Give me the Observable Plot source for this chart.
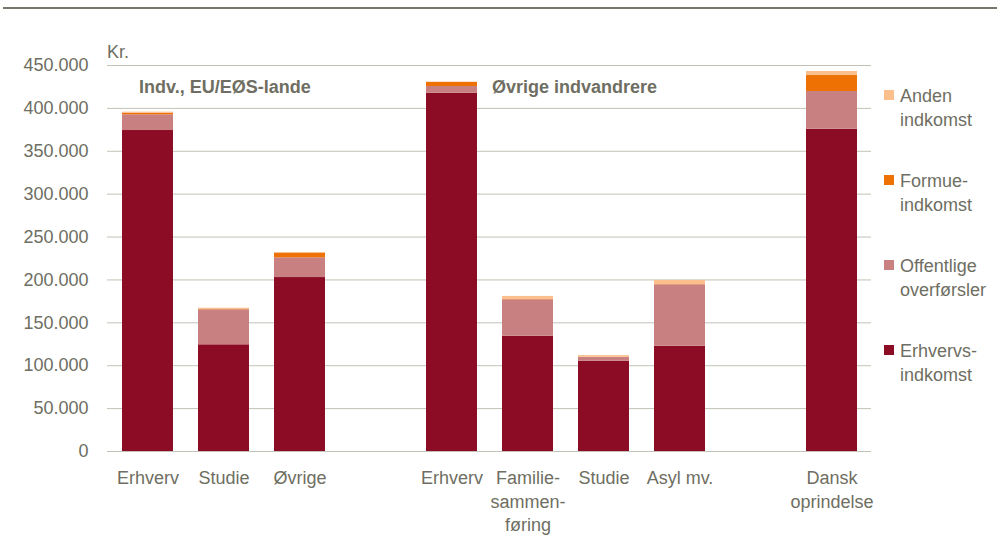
<!DOCTYPE html>
<html>
<head>
<meta charset="utf-8">
<script src="https://cdn.jsdelivr.net/npm/d3@7"></script>
<script src="https://cdn.jsdelivr.net/npm/@observablehq/plot@0.6"></script>
<style>
  html, body { margin: 0; padding: 0; background: #fff; }
  #chart { width: 997px; height: 538px; }
</style>
</head>
<body>
<div id="chart"></div>
<script>
// Category slots (empty strings are gaps between groups)
const categoryLabels = ["Erhverv", "Studie", "Øvrige", "", "Erhverv", "Familie-\nsammen-\nføring", "Studie", "Asyl mv.", "", "Dansk\noprindelse"];
const seriesNames = ["Erhvervs-indkomst", "Offentlige overførsler", "Formue-indkomst", "Anden indkomst"];
const legendLabels = [["Erhvervs-", "indkomst"], ["Offentlige", "overførsler"], ["Formue-", "indkomst"], ["Anden", "indkomst"]];
const seriesColors = ["#8b0c24", "#c98080", "#ee7203", "#fbbf8c"];

// Values in kr. (null = gap slot)
const erhvervsIndkomst = [374200, 124400, 202800, null, 417700, 134400, 105300, 122800, null, 375700];
const offentligeOverforsler = [18300, 40800, 23000, null, 7800, 42400, 4300, 71500, null, 44000];
const formueIndkomst = [1900, 300, 5000, null, 4700, 500, 200, 300, null, 18600];
const andenIndkomst = [1200, 1500, 1200, null, 500, 3500, 2000, 4700, null, 4700];

const yTicks = [0, 50000, 100000, 150000, 200000, 250000, 300000, 350000, 400000, 450000];
const groupLabels = ["Indv., EU/EØS-lande", "Øvrige indvandrere"];

const seriesValues = [erhvervsIndkomst, offentligeOverforsler, formueIndkomst, andenIndkomst];
const data = [];
seriesValues.forEach((vals, s) => {
  vals.forEach((v, i) => {
    if (v != null) data.push({i, series: seriesNames[s], value: v});
  });
});
const xLabelData = categoryLabels.map((label, i) => ({i, label, base: 0}));

const textColor = "#6e6e62";
const gridColor = "#c2c2b6";
const fmt = d3.formatLocale({decimal: ",", thousands: ".", grouping: [3], currency: ["", ""]}).format(",d");

const chart = Plot.plot({
  width: 997,
  height: 538,
  marginLeft: 107,
  marginRight: 126,
  marginTop: 65,
  marginBottom: 87,
  style: {fontFamily: "'Liberation Sans', Arial, sans-serif", fontSize: "18px", color: textColor, background: "#fff"},
  x: {domain: d3.range(categoryLabels.length), paddingInner: 0.333, paddingOuter: 0.1665, axis: null},
  y: {domain: [0, 450000], ticks: yTicks, tickSize: 0, tickPadding: 19, tickFormat: fmt, label: null},
  color: {domain: seriesNames, range: seriesColors},
  marks: [
    Plot.ruleY(yTicks, {stroke: gridColor, strokeWidth: 1}),
    Plot.barY(data, {x: "i", y: "value", fill: "series", z: "series"}),
    Plot.text(xLabelData, {x: "i", y: "base", text: "label", dy: 16, lineAnchor: "top", lineHeight: 1.3, fontSize: 18, fill: textColor})
  ]
});
document.getElementById("chart").appendChild(chart);

const svg = d3.select(chart);
const xs = chart.scale("x");

// Top rule
svg.append("line").attr("x1", 3).attr("x2", 997).attr("y1", 8).attr("y2", 8)
  .attr("stroke", "#77766a").attr("stroke-width", 2);

// Unit label
svg.append("text").attr("x", 107).attr("y", 58).attr("fill", textColor)
  .attr("text-anchor", "start").attr("font-size", 18).text("Kr.");

// Group annotations (offset from the first bar of each group)
const groupAnchors = [0, 4];
const groupDx = [17, 66];
groupLabels.forEach((g, k) => {
  svg.append("text")
    .attr("x", xs.apply(groupAnchors[k]) + groupDx[k])
    .attr("y", 93)
    .attr("text-anchor", "start")
    .attr("fill", textColor).attr("font-size", 18).attr("font-weight", "bold")
    .text(g);
});

// Legend (top-down: reversed stack order)
const legendOrder = [3, 2, 1, 0];
legendOrder.forEach((s, k) => {
  const baseY = 102 + k * 85;
  svg.append("rect").attr("x", 884).attr("y", baseY - 12).attr("width", 10).attr("height", 10)
    .attr("fill", seriesColors[s]);
  const t = svg.append("text").attr("x", 900).attr("y", baseY).attr("fill", textColor)
    .attr("text-anchor", "start").attr("font-size", 18);
  legendLabels[s].forEach((line, j) => {
    t.append("tspan").attr("x", 900).attr("dy", j === 0 ? 0 : 24).text(line);
  });
});
</script>
</body>
</html>
